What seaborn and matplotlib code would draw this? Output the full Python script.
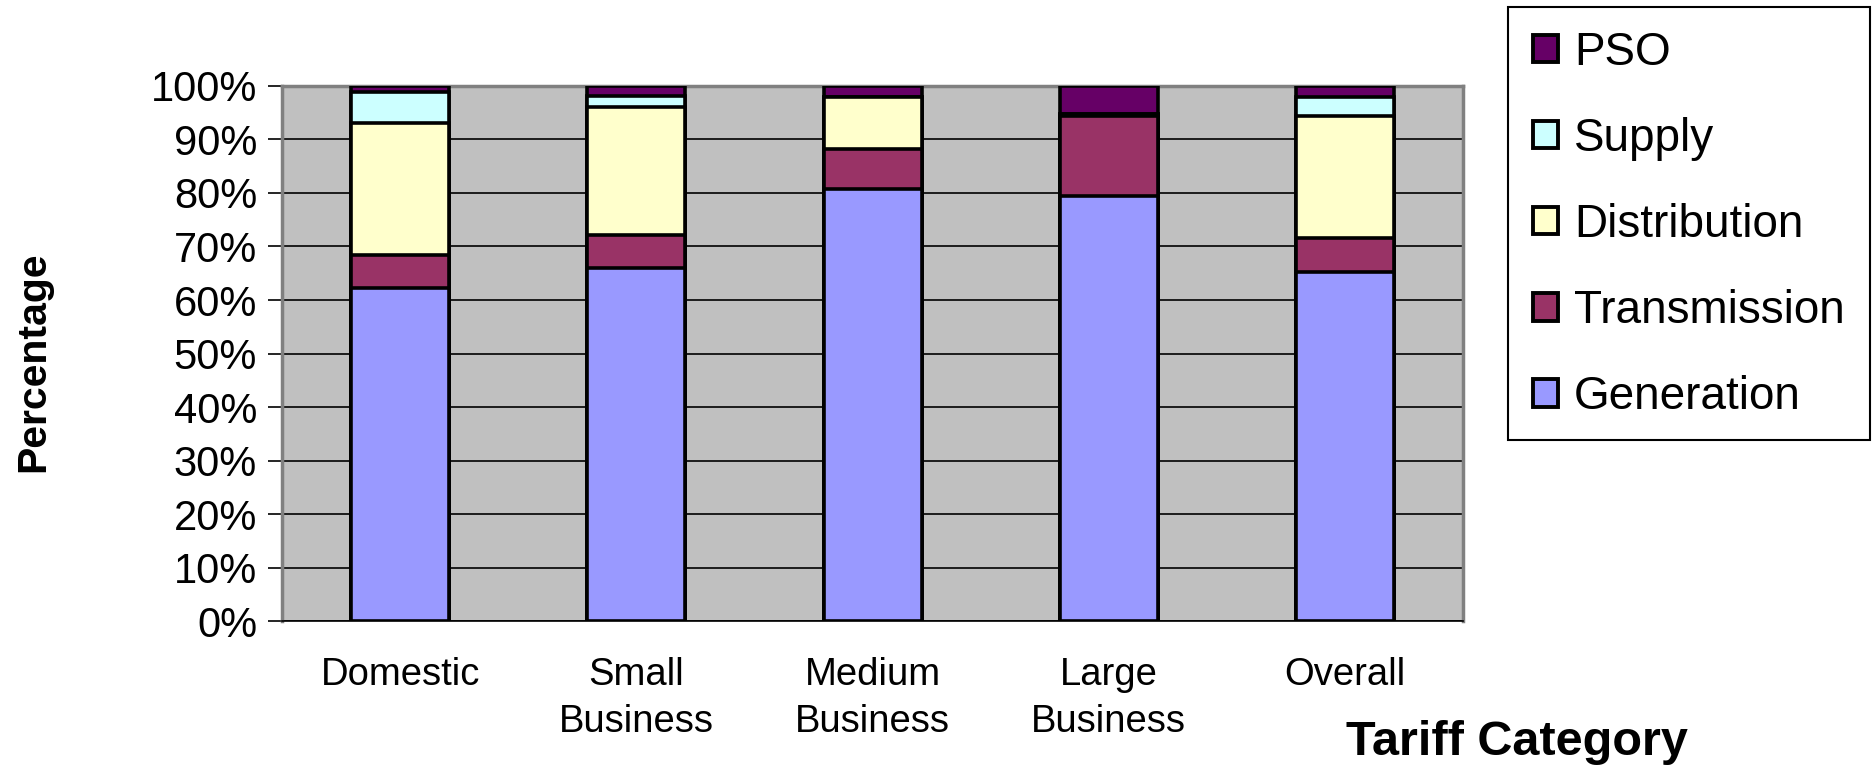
import numpy as np
import pandas as pd
import matplotlib
matplotlib.use("Agg")
import matplotlib.pyplot as plt
from matplotlib.patches import Patch, Rectangle
import seaborn as sns

# values (percent of total price)
categories = ["Domestic", "Small\nBusiness", "Medium\nBusiness", "Large\nBusiness", "Overall"]
generation = [62.2, 65.9, 80.7, 79.5, 65.3]
transmission = [6.2, 6.3, 7.5, 14.8, 6.2]
distribution = [24.7, 23.9, 9.7, 0.5, 22.8]
supply = [5.7, 2.0, 0.0, 0.0, 3.7]
pso = [1.2, 1.9, 2.1, 5.2, 2.0]

components = ["Generation", "Transmission", "Distribution", "Supply", "PSO"]
colors = {"Generation": "#9999FF", "Transmission": "#993366",
          "Distribution": "#FFFFCC", "Supply": "#CCFFFF", "PSO": "#660066"}

df = pd.DataFrame({"Category": categories, "Generation": generation,
                   "Transmission": transmission, "Distribution": distribution,
                   "Supply": supply, "PSO": pso})

sns.set_style("white")
plt.rcParams["font.family"] = ["Liberation Sans", "DejaVu Sans"]
plt.rcParams["text.color"] = "black"
plt.rcParams["xtick.color"] = "black"
plt.rcParams["ytick.color"] = "black"

fig = plt.figure(figsize=(18.73, 7.65), dpi=100)
ax = fig.add_axes([0.1506, 0.1882, 0.6305, 0.6994])
ax.set_facecolor("#C0C0C0")

# stacked bars: draw cumulative totals from the top segment down
cum = df[components].cumsum(axis=1)
for comp in reversed(components):
    sns.barplot(x=df["Category"], y=cum[comp], color=colors[comp],
                edgecolor="black", linewidth=2.6, width=0.415,
                saturation=1, ax=ax, zorder=3)

ax.set_ylim(0, 100)
ax.set_xlim(-0.5, 4.5)
ax.set_yticks(np.arange(0, 101, 10))
ax.set_yticklabels([f"{v}%" for v in range(0, 101, 10)], fontsize=30)
ax.yaxis.grid(True, color="black", linewidth=1.2, zorder=1)
ax.set_axisbelow(True)
ax.set_xlabel("")
ax.set_ylabel("")

# category labels centered, tick marks at the category boundaries
ax.set_xticks(range(len(categories)))
ax.set_xticklabels(categories, fontsize=27.5, linespacing=1.4)
ax.tick_params(axis="x", which="major", length=0, pad=26)
ax.set_xticks(np.arange(-0.5, 5, 1), minor=True)
ax.tick_params(axis="x", which="minor", length=10, width=1.2, color="black", direction="out")
ax.tick_params(axis="y", length=10, width=1.2, color="black", direction="out", pad=8, left=True)

for side in ["top", "right", "left"]:
    ax.spines[side].set_color("#808080")
    ax.spines[side].set_linewidth(2.5)
ax.spines["bottom"].set_color("black")
ax.spines["bottom"].set_linewidth(1.2)

fig.text(0.0176, 0.527, "Percentage", rotation=90, fontsize=29.5, fontweight="bold",
         ha="center", va="center")
fig.text(0.81, 0.029, "Tariff Category", fontsize=35, fontweight="bold",
         ha="center", va="center")

# legend box
fig.patches.append(Rectangle((1508 / 1873, 1 - 440 / 765), 362 / 1873, 433 / 765,
                             transform=fig.transFigure, facecolor="white",
                             edgecolor="black", linewidth=1.5, zorder=0))
handles = [Patch(facecolor=colors[c], edgecolor="black", linewidth=2.8, label=c)
           for c in reversed(components)]
fig.legend(handles=handles, loc="upper left", bbox_to_anchor=(0.806, 0.99),
           frameon=False, fontsize=33, handlelength=0.55, handleheight=0.55,
           handletextpad=0.35, labelspacing=0.92, borderpad=0)

fig.savefig("out.png", dpi=100)
